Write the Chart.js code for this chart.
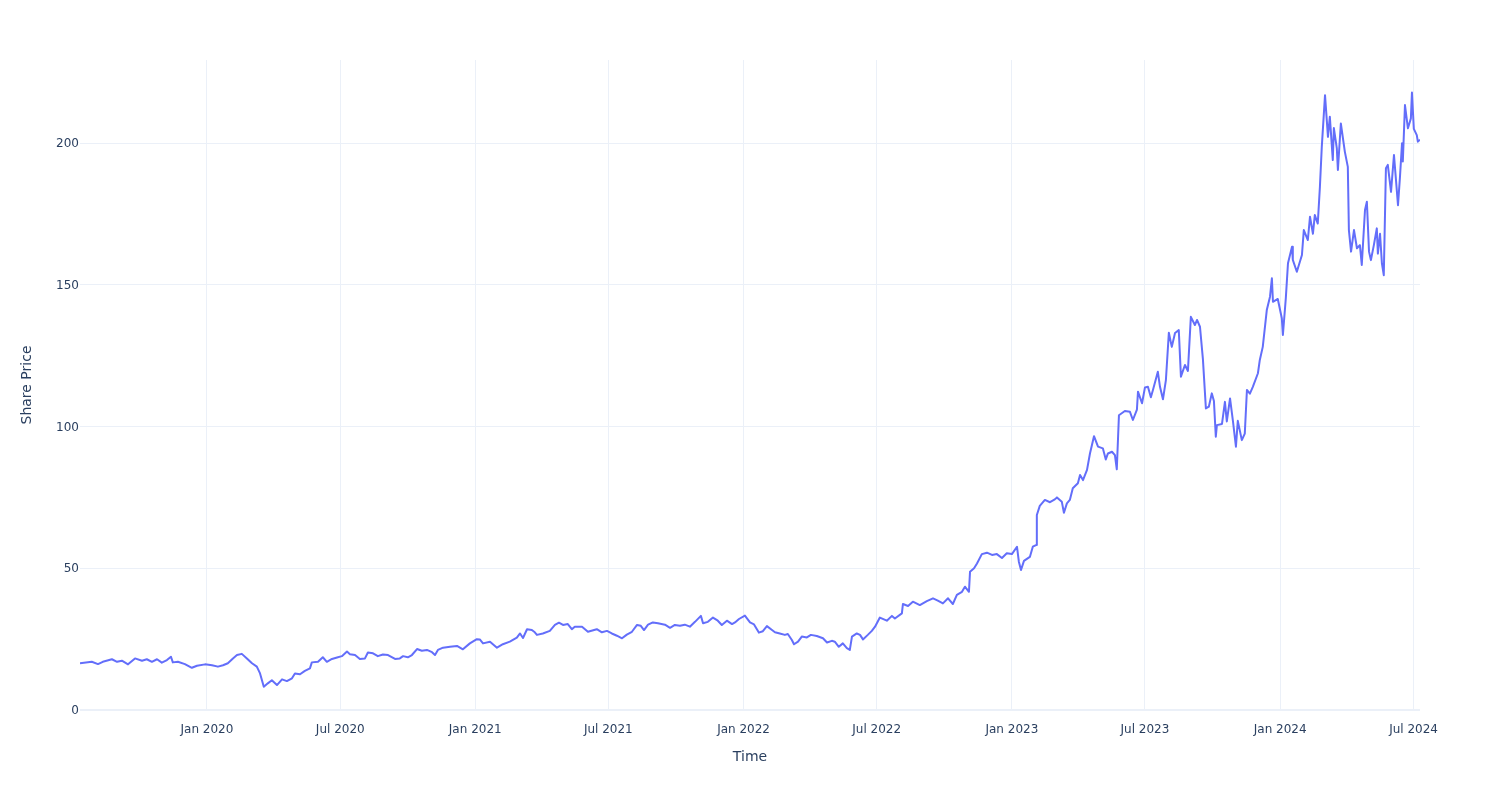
<!DOCTYPE html>
<html>
<head>
<meta charset="utf-8">
<script src="https://cdn.jsdelivr.net/npm/chart.js@4.4.1/dist/chart.umd.min.js"></script>
<style>
  html, body { margin: 0; padding: 0; background: #ffffff; }
  #wrap { width: 1500px; height: 800px; }
</style>
</head>
<body>
<div id="wrap"><canvas id="c" width="1500" height="800"></canvas></div>
<script>
// Dates as decimal years
const dates = [
2019.527,2019.571,2019.594,2019.612,2019.646,2019.665,2019.683,2019.706,2019.732,2019.758,
2019.776,2019.795,2019.814,2019.832,2019.851,2019.866,2019.873,2019.892,2019.918,2019.944,
2019.963,2019.993,2020.019,2020.041,2020.060,2020.078,2020.097,2020.112,2020.130,2020.149,
2020.168,2020.186,2020.198,2020.212,2020.227,2020.242,2020.261,2020.280,2020.298,2020.317,
2020.328,2020.347,2020.365,2020.384,2020.391,2020.414,2020.432,2020.447,2020.466,2020.485,
2020.503,2020.522,2020.533,2020.552,2020.570,2020.589,2020.600,2020.619,2020.637,2020.656,
2020.675,2020.701,2020.719,2020.731,2020.749,2020.764,2020.783,2020.801,2020.820,2020.839,
2020.850,2020.861,2020.880,2020.906,2020.932,2020.954,2020.980,2021.006,2021.017,2021.029,
2021.055,2021.081,2021.103,2021.129,2021.155,2021.167,2021.178,2021.193,2021.211,2021.222,
2021.230,2021.252,2021.278,2021.297,2021.312,2021.327,2021.345,2021.360,2021.371,2021.398,
2021.420,2021.453,2021.472,2021.491,2021.509,2021.528,2021.547,2021.565,2021.584,2021.603,
2021.617,2021.629,2021.644,2021.662,2021.681,2021.707,2021.726,2021.744,2021.763,2021.781,
2021.800,2021.819,2021.841,2021.849,2021.867,2021.886,2021.904,2021.919,2021.938,2021.957,
2021.968,2021.983,2022.005,2022.024,2022.039,2022.057,2022.072,2022.087,2022.106,2022.117,
2022.135,2022.154,2022.165,2022.180,2022.188,2022.203,2022.217,2022.236,2022.251,2022.273,
2022.296,2022.311,2022.329,2022.340,2022.355,2022.370,2022.385,2022.396,2022.404,2022.422,
2022.434,2022.445,2022.463,2022.478,2022.490,2022.508,2022.534,2022.553,2022.564,2022.590,
2022.594,2022.613,2022.631,2022.657,2022.683,2022.706,2022.724,2022.743,2022.762,2022.780,
2022.795,2022.814,2022.825,2022.840,2022.844,2022.859,2022.870,2022.888,2022.907,2022.926,
2022.944,2022.963,2022.981,2023.000,2023.019,2023.026,2023.034,2023.045,2023.067,2023.078,
2023.090,2023.093,2023.104,2023.123,2023.142,2023.160,2023.168,2023.186,2023.194,2023.205,
2023.216,2023.227,2023.246,2023.254,2023.265,2023.280,2023.291,2023.306,2023.321,2023.339,
2023.350,2023.358,2023.373,2023.384,2023.391,2023.399,2023.421,2023.440,2023.451,2023.466,
2023.470,2023.485,2023.496,2023.507,2023.518,2023.526,2023.544,2023.552,2023.563,2023.574,
2023.585,2023.596,2023.608,2023.622,2023.630,2023.645,2023.656,2023.667,2023.682,2023.690,
2023.701,2023.712,2023.723,2023.734,2023.745,2023.753,2023.760,2023.764,2023.783,2023.794,
2023.801,2023.813,2023.824,2023.835,2023.842,2023.857,2023.868,2023.876,2023.887,2023.898,
2023.917,2023.924,2023.935,2023.950,2023.962,2023.969,2023.973,2023.991,2024.006,2024.010,
2024.021,2024.029,2024.044,2024.047,2024.062,2024.081,2024.088,2024.103,2024.111,2024.122,
2024.129,2024.140,2024.148,2024.155,2024.167,2024.178,2024.185,2024.196,2024.200,2024.211,
2024.215,2024.226,2024.241,2024.252,2024.256,2024.264,2024.275,2024.286,2024.297,2024.304,
2024.316,2024.323,2024.331,2024.338,2024.349,2024.360,2024.364,2024.372,2024.379,2024.386,
2024.394,2024.401,2024.413,2024.424,2024.439,2024.446,2024.454,2024.457,2024.465,2024.476,
2024.487,2024.491,2024.498,2024.509,2024.513,2024.521
];
const prices = [
16.5,17.0,16.2,17.0,17.9,17.0,17.4,16.1,18.2,17.4,
17.9,17.0,17.9,16.7,17.6,18.8,16.8,17.0,16.2,14.9,
15.6,16.1,15.8,15.3,15.8,16.5,18.2,19.4,19.8,18.2,
16.5,15.3,12.9,8.2,9.4,10.5,8.8,10.8,10.2,11.2,
12.9,12.6,13.8,14.7,16.8,17.0,18.6,17.0,18.0,18.5,
19.0,20.6,19.7,19.4,18.0,18.2,20.3,20.0,19.0,19.6,
19.4,18.0,18.2,19.0,18.6,19.4,21.5,20.9,21.2,20.4,
19.4,21.2,22.0,22.3,22.6,21.4,23.5,25.0,24.9,23.5,
24.1,22.0,23.2,24.1,25.5,27.0,25.4,28.5,28.2,27.4,
26.5,27.0,27.9,30.0,30.8,30.0,30.3,28.5,29.4,29.4,
27.6,28.5,27.4,27.9,27.0,26.2,25.3,26.6,27.6,30.0,
29.7,28.2,30.1,30.9,30.6,30.1,29.0,30.0,29.7,30.1,
29.4,31.1,33.2,30.6,31.1,32.6,31.5,30.0,31.5,30.3,
30.9,32.1,33.3,30.9,30.2,27.3,27.8,29.6,28.2,27.4,
27.0,26.5,26.8,24.7,23.2,24.1,25.9,25.6,26.5,26.1,
25.3,23.8,24.4,24.1,22.3,23.5,21.8,21.2,25.9,27.0,
26.5,24.9,26.5,27.9,29.4,32.6,31.5,33.2,32.3,34.1,
37.4,36.7,38.2,37.0,38.4,39.4,38.6,37.6,39.4,37.4,
40.6,41.7,43.5,41.7,48.8,50.0,51.7,55.0,55.5,54.7,
55.0,53.6,55.3,55.0,57.6,52.3,49.4,52.6,54.0,57.6,
58.2,68.8,72.0,74.1,73.3,74.3,75.0,73.5,69.6,72.9,
74.1,78.2,80.0,82.9,81.1,84.7,90.5,96.6,92.9,92.3,
88.4,90.5,91.1,89.9,84.9,104.0,105.5,105.2,102.3,106.0,
112.3,108.2,113.8,114.0,110.3,113.0,119.3,114.0,109.6,116.4,
133.1,128.1,133.0,134.0,117.6,121.7,119.6,138.7,135.8,137.6,
135.2,123.7,106.4,107.0,111.7,109.0,96.4,100.5,100.9,108.7,
101.8,109.9,101.8,92.9,102.0,95.2,97.5,112.9,111.6,114.0,
118.8,123.5,128.1,141.1,145.8,152.3,144.0,145.0,138.2,132.3,
145.4,157.6,163.4,158.8,154.6,160.5,169.3,165.8,174.0,168.0,
174.6,171.6,184.6,198.7,216.9,202.2,209.3,194.0,205.3,198.1,
190.5,206.9,196.9,191.6,169.3,161.7,169.3,162.9,164.0,157.0,
176.4,179.3,161.7,158.7,164.0,169.9,161.0,168.0,157.6,153.4,
191.1,192.3,182.8,195.8,178.1,187.5,199.9,193.5,213.4,205.2,
208.7,217.8,205.0,202.8,200.5,201.2
];
const xTickValues = [2020.0, 2020.497, 2021.0, 2021.496, 2022.0, 2022.496, 2023.0, 2023.496, 2024.0, 2024.497];
const xTickLabels = ['Jan 2020','Jul 2020','Jan 2021','Jul 2021','Jan 2022','Jul 2022','Jan 2023','Jul 2023','Jan 2024','Jul 2024'];
const yTickValues = [0, 50, 100, 150, 200];
const xTitle = 'Time';
const yTitle = 'Share Price';

const points = dates.map((d, i) => ({ x: d, y: prices[i] }));
const FONT = '"DejaVu Sans", Verdana, Arial, sans-serif';
const GRID = '#EBF0F8';
const TEXT = '#2a3f5f';

new Chart(document.getElementById('c'), {
  type: 'line',
  data: {
    datasets: [{
      data: points,
      borderColor: '#636efa',
      borderWidth: 2,
      pointRadius: 0,
      pointHoverRadius: 0,
      tension: 0,
      fill: false,
      borderJoinStyle: 'round'
    }]
  },
  options: {
    responsive: false,
    animation: false,
    layout: { padding: { left: 0, top: 60, right: 80, bottom: 0 } },
    plugins: { legend: { display: false }, tooltip: { enabled: false } },
    scales: {
      x: {
        type: 'linear',
        min: dates[0],
        max: dates[dates.length - 1],
        border: { display: false },
        grid: { color: GRID, lineWidth: 1, drawTicks: false },
        afterBuildTicks: (s) => { s.ticks = xTickValues.map(v => ({ value: v })); },
        afterFit: (s) => { s.height = 90; },
        ticks: {
          autoSkip: false, maxRotation: 0, padding: 13,
          color: TEXT, font: { family: FONT, size: 12 },
          callback: (v, i) => xTickLabels[i]
        },
        title: { display: true, text: xTitle, color: TEXT, font: { family: FONT, size: 14 }, padding: { top: 0, bottom: 34 } }
      },
      y: {
        type: 'linear',
        min: 0,
        max: 229.3,
        border: { display: false },
        grid: {
          color: GRID, drawTicks: false,
          lineWidth: (ctx) => (ctx.tick && ctx.tick.value === 0 ? 2 : 1)
        },
        afterBuildTicks: (s) => { s.ticks = yTickValues.map(v => ({ value: v })); },
        afterFit: (s) => { s.width = 80; },
        ticks: {
          padding: 1, labelOffset: 1, color: TEXT, font: { family: FONT, size: 12 },
          callback: (v) => String(v)
        },
        title: { display: true, text: yTitle, color: TEXT, font: { family: FONT, size: 14 }, padding: { top: 19, bottom: 0 } }
      }
    }
  }
});
</script>
</body>
</html>
